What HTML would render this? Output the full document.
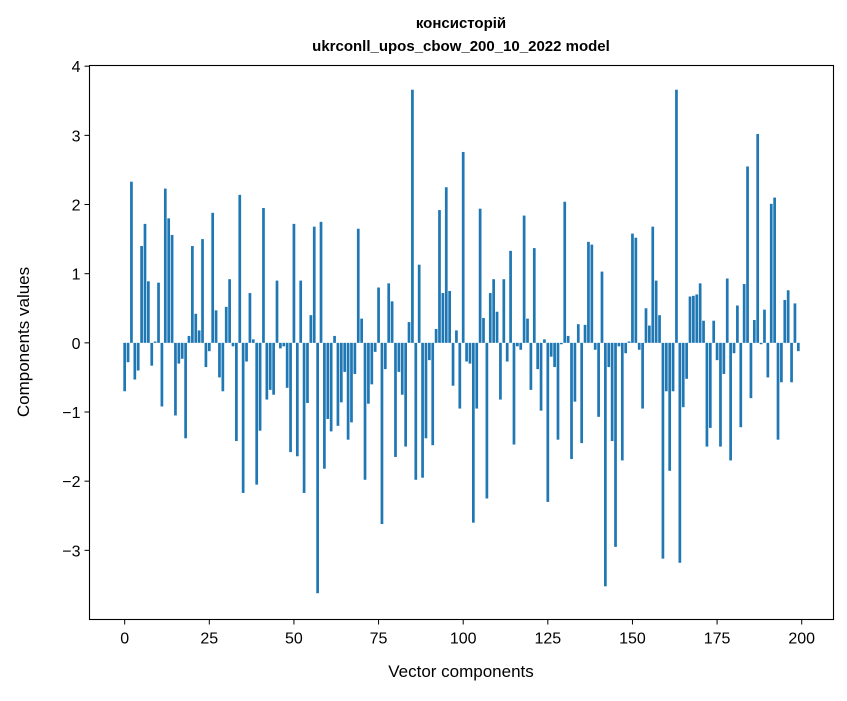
<!DOCTYPE html>
<html><head><meta charset="utf-8">
<style>
body{margin:0;background:#fff;}
svg text{font-family:"Liberation Sans","DejaVu Sans",sans-serif;fill:#000;}
</style></head>
<body>
<svg id="chart" width="847" height="696" viewBox="0 0 847 696">
<text x="461" y="28" text-anchor="middle" font-size="15" font-weight="bold">консисторій</text>
<text x="461" y="51" text-anchor="middle" font-size="15" font-weight="bold">ukrconll_upos_cbow_200_10_2022 model</text>
<g id="bars"></g>
<rect x="89.5" y="65.5" width="744" height="554" fill="none" stroke="#000" stroke-width="1.1"/>
<g id="xticks"></g>
<g id="yticks"></g>
<text x="461" y="677" text-anchor="middle" font-size="17">Vector components</text>
<text transform="translate(29,342) rotate(-90)" text-anchor="middle" font-size="17">Components values</text>
</svg>
<script>
const values = [-0.7,-0.28,2.33,-0.53,-0.4,1.4,1.72,0.89,-0.33,0.02,0.87,-0.92,2.23,1.8,1.56,-1.05,-0.3,-0.23,-1.38,0.1,
1.4,0.42,0.18,1.5,-0.35,-0.12,1.88,0.47,-0.5,-0.7,0.52,0.92,-0.05,-1.42,2.14,-2.17,-0.27,0.72,0.05,-2.05,
-1.27,1.95,-0.82,-0.68,-0.75,0.9,-0.08,-0.05,-0.65,-1.58,1.72,-1.64,0.9,-2.17,-0.87,0.4,1.68,-3.62,1.75,-1.82,
-1.1,-1.28,0.1,-1.2,-0.86,-0.42,-1.4,-1.15,-0.45,1.65,0.35,-1.98,-0.88,-0.6,-0.13,0.8,-2.62,-0.38,0.86,0.6,
-1.65,-0.42,-0.75,-1.5,0.3,3.66,-1.98,1.13,-1.95,-1.38,-0.25,-1.48,0.2,1.92,0.72,2.25,0.75,-0.62,0.18,-0.95,
2.76,-0.27,-0.3,-2.6,-0.95,1.94,0.36,-2.25,0.72,0.92,0.45,-0.82,0.92,-0.27,1.33,-1.47,-0.05,-0.1,1.84,0.35,
-0.68,1.37,-0.38,-0.98,0.05,-2.3,-0.2,-0.35,-1.4,-0.02,2.04,0.1,-1.68,-0.85,0.27,-1.45,0.26,1.46,1.42,-0.1,
-1.07,1.03,-3.52,-0.35,-1.42,-2.95,-0.05,-1.7,-0.15,0.02,1.58,1.52,-0.1,-0.95,0.5,0.25,1.68,0.9,0.4,-3.12,
-0.7,-1.85,-0.7,3.66,-3.18,-0.93,-0.52,0.67,0.68,0.7,0.86,0.32,-1.5,-1.23,0.32,-0.25,-1.5,-0.45,0.93,-1.7,
-0.15,0.54,-1.22,0.85,2.55,-0.8,0.33,3.02,-0.02,0.48,-0.5,2.01,2.1,-1.4,-0.57,0.62,0.76,-0.57,0.57,-0.12];
const xTicks = [0,25,50,75,100,125,150,175,200];
const yTicks = [-3,-2,-1,0,1,2,3,4];
const yTickLabels = ["\u22123","\u22122","\u22121","0","1","2","3","4"];

const NS="http://www.w3.org/2000/svg";
const PL=89.5, PR=833.5, PT=65.5, PB=619.5;
const xmin=-10.39, xmax=209.39, ymin=-4.0, ymax=4.01;
const xs=v=>PL+(v-xmin)/(xmax-xmin)*(PR-PL);
const ys=v=>PB-(v-ymin)/(ymax-ymin)*(PB-PT);
const bars=document.getElementById('bars');
values.forEach((v,i)=>{
  const r=document.createElementNS(NS,'rect');
  const x0=xs(i-0.4), x1=xs(i+0.4);
  const y0=ys(Math.max(v,0)), y1=ys(Math.min(v,0));
  r.setAttribute('x',x0);r.setAttribute('width',x1-x0);
  r.setAttribute('y',y0);r.setAttribute('height',Math.max(y1-y0,0.3));
  r.setAttribute('fill','#1f77b4');
  
  
  bars.appendChild(r);
});
const xg=document.getElementById('xticks');
xTicks.forEach(t=>{
  const l=document.createElementNS(NS,'line');
  l.setAttribute('x1',xs(t));l.setAttribute('x2',xs(t));l.setAttribute('y1',PB);l.setAttribute('y2',PB+5);
  l.setAttribute('stroke','#000');
  
  
  xg.appendChild(l);
  const tx=document.createElementNS(NS,'text');
  tx.setAttribute('x',xs(t));tx.setAttribute('y',PB+24);tx.setAttribute('text-anchor','middle');tx.setAttribute('font-size','16');
  tx.textContent=String(t);
  
  
  xg.appendChild(tx);
});
const yg=document.getElementById('yticks');
yTicks.forEach((t,k)=>{
  const l=document.createElementNS(NS,'line');
  l.setAttribute('x1',PL-5);l.setAttribute('x2',PL);l.setAttribute('y1',ys(t));l.setAttribute('y2',ys(t));
  l.setAttribute('stroke','#000');
  
  
  yg.appendChild(l);
  const tx=document.createElementNS(NS,'text');
  tx.setAttribute('x',PL-9);tx.setAttribute('y',ys(t)+6);tx.setAttribute('text-anchor','end');tx.setAttribute('font-size','16');
  tx.textContent=yTickLabels[k];
  
  
  yg.appendChild(tx);
});
</script>
</body></html>
